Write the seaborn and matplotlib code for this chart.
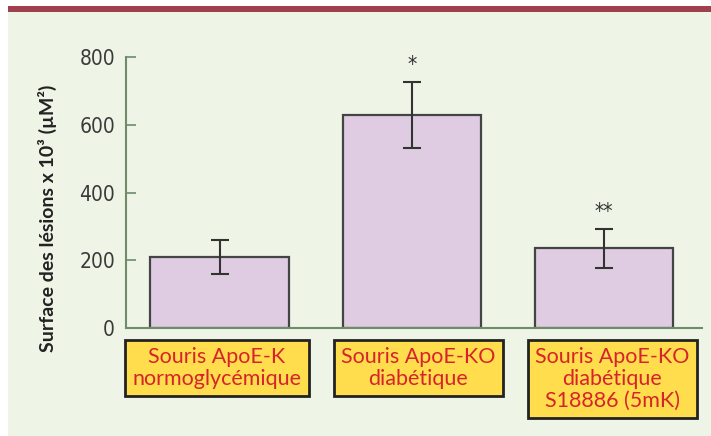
import matplotlib
matplotlib.use("Agg")
import matplotlib.pyplot as plt
import seaborn as sns
import pandas as pd
from matplotlib.patches import Rectangle
from matplotlib import font_manager

# ---- data ----
groups = ["Souris ApoE-K\nnormoglycémique",
          "Souris ApoE-KO\ndiabétique",
          "Souris ApoE-KO\ndiabétique\nS18886 (5mK)"]
values = [210, 630, 235]
errors = [50, 98, 57]
stars = ["", "*", "**"]
yticks = [0, 200, 400, 600, 800]
ylabel = "Surface des lésions x 10³ (µM²)"

df = pd.DataFrame({"group": groups, "value": values})

sns.set_theme(style="white")
plt.rcParams["font.family"] = ["Lato", "DejaVu Sans"]

fl = font_manager.fontManager.ttflist
names = {f.name for f in fl}
narrow = "Liberation Sans Narrow" if "Liberation Sans Narrow" in names else "DejaVu Sans"
narrow_stretch = "normal" if narrow == "Liberation Sans Narrow" else "condensed"

BG = "#EEF4E6"
fig = plt.figure(figsize=(7.11, 4.36), dpi=100, facecolor="white")
fig.patches.append(Rectangle((8 / 711, 0), 1, 1 - 12 / 436, transform=fig.transFigure,
                             facecolor=BG, edgecolor="none", zorder=-10))
fig.patches.append(Rectangle((8 / 711, 1 - 12 / 436), 1, 6 / 436, transform=fig.transFigure,
                             facecolor="#A0404F", edgecolor="none", zorder=-9))

ax = fig.add_axes([126 / 711, 1 - 328 / 436, (702 - 126) / 711, (328 - 57.3) / 436])
ax.set_facecolor("none")

sns.barplot(data=df, x="group", y="value", ax=ax, color="#DFCCE2",
            width=0.72, edgecolor="#444444", linewidth=1.6, saturation=1, errorbar=None)
ax.errorbar(range(len(values)), values, yerr=errors, fmt="none",
            ecolor="#333333", elinewidth=1.5, capsize=6.5, capthick=1.5, zorder=5)

for i, (v, e, s) in enumerate(zip(values, errors, stars)):
    if s:
        ax.annotate(s, xy=(i, v + e), xytext=(0, 5), textcoords="offset points",
                    ha="center", va="bottom", fontsize=15, color="#333333",
                    family=[narrow], fontstretch=narrow_stretch)

ax.set_xlim(-0.487, 2.51)
ax.set_ylim(0, 800)
ax.set_yticks(yticks)
ax.set_yticklabels([str(t) for t in yticks], family=[narrow], fontstretch=narrow_stretch,
                   fontsize=15, color="#3a3a3a")
ax.tick_params(axis="y", direction="in", length=7, width=1.2, color="#6E8B6A", pad=8, left=True)
ax.tick_params(axis="x", bottom=False, labelbottom=False)
ax.set_xlabel("")
ax.set_ylabel("")

for side in ["top", "right"]:
    ax.spines[side].set_visible(False)
for side in ["left", "bottom"]:
    ax.spines[side].set_color("#6E8B6A")
    ax.spines[side].set_linewidth(1.5)

fig.text(47 / 711, 1 - 218 / 436, ylabel, rotation=90, ha="center", va="center",
         fontsize=14, fontweight="bold", color="#222222")

# category label boxes
box_dx = [-2.5, 6.5, 8.5]
for i, g in enumerate(groups):
    ax.annotate(g, xy=(i, 0), xycoords=("data", "axes fraction"),
                xytext=(box_dx[i] * 0.72, -14), textcoords="offset points",
                ha="center", va="top", fontsize=15.5, color="#D7232B",
                fontweight="normal", linespacing=1.1,
                bbox=dict(boxstyle="square,pad=0.33", facecolor="#FFDD4C",
                          edgecolor="#222222", linewidth=2), annotation_clip=False)

fig.savefig("out.png", dpi=100, facecolor=fig.get_facecolor())
